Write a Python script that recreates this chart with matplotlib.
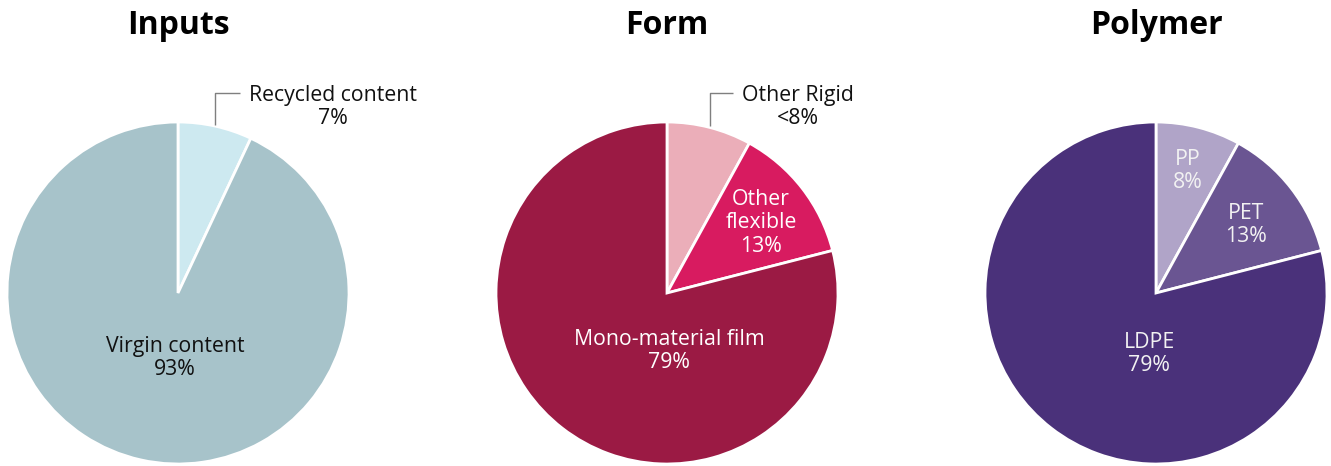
import numpy as np
import matplotlib.pyplot as plt

plt.rcParams['font.family'] = ['Open Sans', 'DejaVu Sans']

titles = ['Inputs', 'Form', 'Polymer']

inputs_labels = ['Recycled content', 'Virgin content']
inputs_values = [7, 93]
inputs_pct = ['7%', '93%']
inputs_colors = ['#cde9f0', '#a7c3ca']

form_labels = ['Other Rigid', 'Other\nflexible', 'Mono-material film']
form_values = [8, 13, 79]
form_pct = ['<8%', '13%', '79%']
form_colors = ['#ebaeb9', '#d81b60', '#9b1a44']

polymer_labels = ['PP', 'PET', 'LDPE']
polymer_values = [8, 13, 79]
polymer_pct = ['8%', '13%', '79%']
polymer_colors = ['#b0a4c8', '#6a5592', '#4a317a']

W, H = 1331, 466
R = 171
centers_x = [178, 667, 1156]
center_y = H - 293

fig = plt.figure(figsize=(W / 100, H / 100), dpi=100)
ax = fig.add_axes([0, 0, 1, 1])

def draw_pie(cx, values, colors):
    wedges, _ = ax.pie(values, colors=colors, startangle=90, counterclock=False,
                       center=(cx, center_y), radius=R, frame=True,
                       wedgeprops=dict(edgecolor='white', linewidth=2))
    return wedges

def label(x, y, text, color, size=15.3):
    # x, y given from the top-left corner
    ax.text(x, H - y, text, ha='center', va='center', color=color,
            fontsize=size, linespacing=1.14)

def leader(cx, wedge, tx, ty):
    mid = np.deg2rad((wedge.theta1 + wedge.theta2) / 2)
    x0 = cx + R * np.cos(mid)
    y0 = center_y + R * np.sin(mid) + 1
    ax.plot([x0, x0, tx], [y0, H - ty, H - ty], color='#7f7f7f', lw=1,
            solid_capstyle='butt')

# Inputs
w = draw_pie(centers_x[0], inputs_values, inputs_colors)
leader(centers_x[0], w[0], 240, 93)
label(333, 107, inputs_labels[0] + '\n' + inputs_pct[0], '#111111')
label(175, 358, inputs_labels[1] + '\n' + inputs_pct[1], '#111111')

# Form
w = draw_pie(centers_x[1], form_values, form_colors)
leader(centers_x[1], w[0], 733, 93)
label(798, 107, form_labels[0] + '\n' + form_pct[0], '#111111')
label(761, 223, form_labels[1] + '\n' + form_pct[1], 'white')
label(669, 351, form_labels[2] + '\n' + form_pct[2], 'white')

# Polymer
w = draw_pie(centers_x[2], polymer_values, polymer_colors)
label(1188, 171, polymer_labels[0] + '\n' + polymer_pct[0], '#f2f2f2')
label(1246, 225, polymer_labels[1] + '\n' + polymer_pct[1], '#f2f2f2')
label(1149, 354, polymer_labels[2] + '\n' + polymer_pct[2], '#f2f2f2')

ax.set_xlim(0, W)
ax.set_ylim(0, H)
ax.set_aspect('equal')
ax.axis('off')

for cx, t in zip(centers_x, titles):
    ax.text(cx, H - 25, t, ha='center', va='center', fontsize=23,
            fontweight='bold', color='black')

fig.savefig('out.png', dpi=100)
